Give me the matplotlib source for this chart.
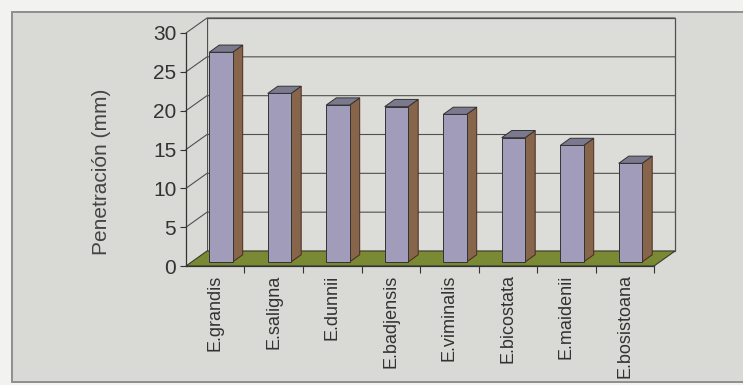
import matplotlib
matplotlib.use("Agg")
import matplotlib.pyplot as plt
from matplotlib.patches import Polygon, Rectangle
import numpy as np

# Data
species = ["E.grandis", "E.saligna", "E.dunnii", "E.badjensis",
           "E.viminalis", "E.bicostata", "E.maidenii", "E.bosistoana"]
penetration = [27.0, 21.7, 20.2, 20.0, 19.0, 16.0, 15.0, 12.7]
y_ticks = [0, 5, 10, 15, 20, 25, 30]
y_label = "Penetración (mm)"

plt.rcParams['font.family'] = ['Liberation Sans', 'DejaVu Sans']

W, H = 743, 385
fig = plt.figure(figsize=(W / 100, H / 100), dpi=100)
fig.patch.set_facecolor('#f2f2f0')

# Chart area panel with frame
fig.patches.append(Rectangle((12 / W, 3 / H), 1.0, 370 / H,
                             transform=fig.transFigure, facecolor='#d9d9d5',
                             edgecolor='#8e8e8e', linewidth=1.4, zorder=-10))

# Front plane of the 3-D box
ax = fig.add_axes([186 / W, (H - 266) / H, 468 / W, 233 / H])
ax.set_zorder(1)
n = len(species)
ymax = y_ticks[-1]
ax.set_xlim(0, n)
ax.set_ylim(0, ymax)
ax.patch.set_visible(False)

# Oblique depth offset (full depth) in data units
px_x = 468 / n
px_y = 233 / ymax
DXU = 21 / px_x
DYU = 15 / px_y


def proj(x, y, d):
    return (x + d * DXU, y + d * DYU)


line_col = '#505050'

# Walls
back = Polygon([proj(0, 0, 1), proj(n, 0, 1), proj(n, ymax, 1), proj(0, ymax, 1)],
               closed=True, facecolor='#dcdcd8', edgecolor=line_col,
               linewidth=0.9, clip_on=False, zorder=1)
side = Polygon([proj(0, 0, 0), proj(0, 0, 1), proj(0, ymax, 1), proj(0, ymax, 0)],
               closed=True, facecolor='#d9d9d5', edgecolor='none',
               clip_on=False, zorder=1)
ax.add_patch(back)
ax.add_patch(side)

# Gridlines on side and back walls
for v in y_ticks[1:]:
    pts = [proj(0, v, 0), proj(0, v, 1), proj(n, v, 1)]
    ax.plot([p[0] for p in pts], [p[1] for p in pts], color=line_col,
            linewidth=0.8, clip_on=False, zorder=2)

# Floor
floor = Polygon([proj(0, 0, 0), proj(n, 0, 0), proj(n, 0, 1), proj(0, 0, 1)],
                closed=True, facecolor='#7a8a34', edgecolor='#3a3a2a',
                linewidth=0.8, clip_on=False, zorder=2)
ax.add_patch(floor)

# Bars
w = 0.4
d0, d1 = 0.27, 0.75
centers = np.arange(n) + 0.5
ax.bar(centers + d0 * DXU, penetration, width=w, bottom=d0 * DYU,
       color='#a09cba', edgecolor='#333333', linewidth=0.7, zorder=4)
for c, v in zip(centers, penetration):
    xl, xr = c - w / 2, c + w / 2
    side_face = Polygon([proj(xr, 0, d0), proj(xr, 0, d1), proj(xr, v, d1), proj(xr, v, d0)],
                        closed=True, facecolor='#86654a', edgecolor='#4a2a22',
                        linewidth=0.7, clip_on=False, zorder=3)
    top_face = Polygon([proj(xl, v, d0), proj(xr, v, d0), proj(xr, v, d1), proj(xl, v, d1)],
                       closed=True, facecolor='#7b798e', edgecolor='#333333',
                       linewidth=0.7, clip_on=False, zorder=3)
    ax.add_patch(side_face)
    ax.add_patch(top_face)

# Axes styling
for s in ('top', 'right'):
    ax.spines[s].set_visible(False)
for s in ('left', 'bottom'):
    ax.spines[s].set_color('#333333')
    ax.spines[s].set_linewidth(0.9)
    ax.spines[s].set_zorder(5)

txt_col = '#333333'
ax.set_yticks(y_ticks)
ax.tick_params(axis='y', direction='out', length=4, width=0.8, pad=3,
               labelsize=15, labelcolor=txt_col, color='#333333')
ax.set_xticks(centers, species, rotation=90)
ax.set_xticks(np.arange(1, n + 1), minor=True)
ax.tick_params(axis='x', which='major', length=0, pad=6, labelsize=13,
               labelcolor=txt_col)
ax.tick_params(axis='x', which='minor', direction='out', length=5, width=0.8,
               color='#333333')

ax.set_ylabel(y_label, fontsize=15, color='#444444')
ax.yaxis.set_label_coords(-0.16, 0.405)

fig.savefig('out.png', dpi=100, facecolor=fig.get_facecolor())
